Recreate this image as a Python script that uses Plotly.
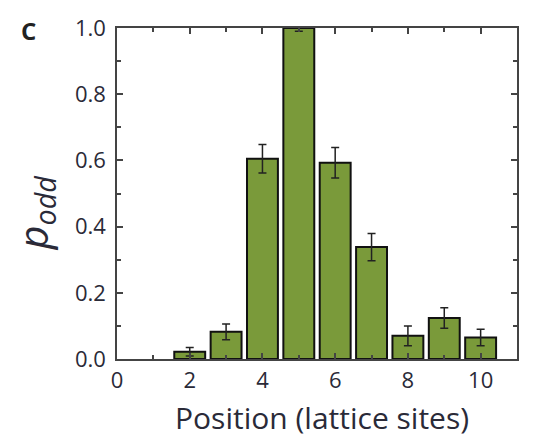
import plotly.graph_objects as go

positions = [2, 3, 4, 5, 6, 7, 8, 9, 10]
p_odd = [0.022, 0.082, 0.605, 1.0, 0.593, 0.338, 0.070, 0.124, 0.065]
p_err = [0.013, 0.024, 0.043, 0.010, 0.046, 0.041, 0.030, 0.031, 0.025]

fig = go.Figure()
fig.add_trace(go.Bar(
    x=positions, y=p_odd,
    marker=dict(color="#7a9a3a", line=dict(color="#111111", width=2)),
    error_y=dict(type="data", array=p_err, color="#222222", thickness=1.5, width=4),
    width=0.85,
))

axis_common = dict(
    showline=True, linecolor="#444444", linewidth=1.5, mirror="ticks",
    ticks="inside", tickcolor="#444444", tickwidth=1.5, ticklen=6,
    showgrid=False, zeroline=False,
    tickfont=dict(family="Open Sans", size=22, color="#2a2a38"),
)

fig.update_xaxes(
    range=[0, 11], dtick=2, tick0=0, ticklabelstandoff=1,
    minor=dict(dtick=1, ticks="inside", ticklen=4, tickcolor="#444444", tickwidth=1.5, showgrid=False),
    **axis_common,
)
fig.update_yaxes(
    range=[0, 1.0], dtick=0.2, tick0=0, tickformat=".1f", ticklabelstandoff=5,
    minor=dict(dtick=0.1, ticks="inside", ticklen=4, tickcolor="#444444", tickwidth=1.5, showgrid=False),
    **axis_common,
)

# axis titles as positioned annotations
fig.add_annotation(
    text="Position (lattice sites)", xref="paper", yref="paper",
    x=(322 - 117) / 400, y=-(418 - 359) / 336,
    xanchor="center", yanchor="middle", showarrow=False,
    font=dict(family="Open Sans", size=30, color="#2a2a38"),
)
fig.add_annotation(
    text="<i>p</i><sub><i>odd</i></sub>", xref="paper", yref="paper",
    x=(34 - 117) / 400, y=(359 - 211) / 336, textangle=-90,
    xanchor="center", yanchor="middle", showarrow=False,
    font=dict(family="Open Sans", size=41, color="#2a2a38"),
)
fig.add_annotation(
    text="<b>C</b>", xref="paper", yref="paper", x=(28 - 117) / 400, y=(359 - 26) / 336,
    xanchor="center", yanchor="middle", showarrow=False,
    font=dict(family="Open Sans", size=24, color="#222222"),
)

fig.update_layout(
    width=549, height=439,
    margin=dict(l=117, r=32, t=23, b=80),
    plot_bgcolor="white", paper_bgcolor="white",
    showlegend=False,
)

fig.write_html("out.html", config={"displayModeBar": False},
               post_script="document.body.style.margin='0';")
